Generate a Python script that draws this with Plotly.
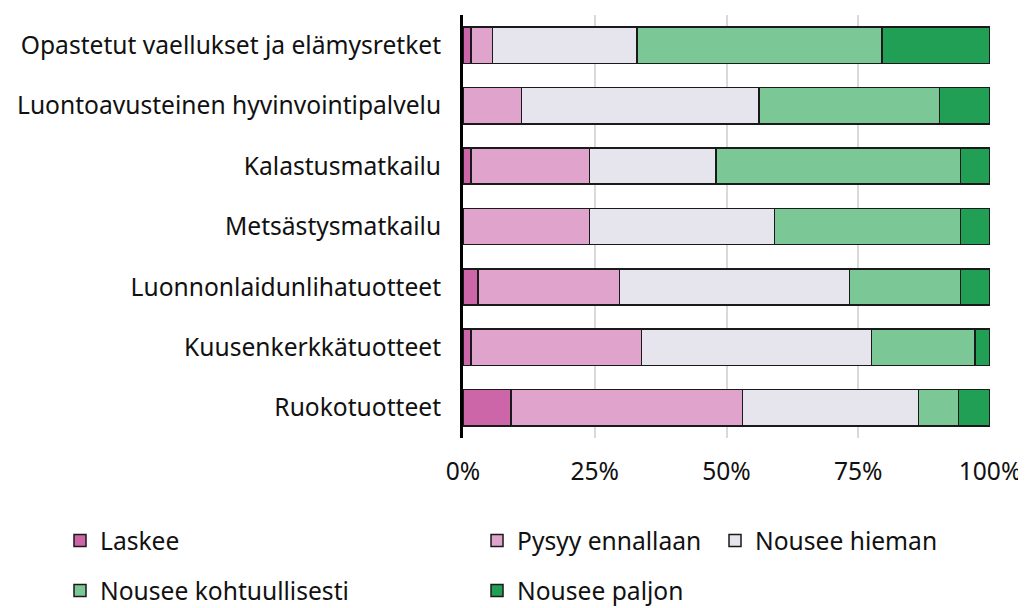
import plotly.graph_objects as go

categories = [
    "Opastetut vaellukset ja elämysretket",
    "Luontoavusteinen hyvinvointipalvelu",
    "Kalastusmatkailu",
    "Metsästysmatkailu",
    "Luonnonlaidunlihatuotteet",
    "Kuusenkerkkätuotteet",
    "Ruokotuotteet",
]
series_names = ["Laskee", "Pysyy ennallaan", "Nousee hieman", "Nousee kohtuullisesti", "Nousee paljon"]
laskee = [1.5, 0.0, 1.5, 0.0, 2.8, 1.5, 9.1]
pysyy = [4.1, 11.1, 22.5, 24.0, 26.9, 32.4, 43.9]
hieman = [27.4, 45.1, 24.0, 35.1, 43.6, 43.6, 33.4]
kohtuullisesti = [46.5, 34.2, 46.4, 35.3, 21.1, 19.7, 7.6]
paljon = [20.5, 9.6, 5.6, 5.6, 5.6, 2.8, 6.0]
series_values = [laskee, pysyy, hieman, kohtuullisesti, paljon]
colors = ["#cc66a8", "#e0a4cc", "#e6e4ec", "#7bc796", "#21a055"]
legend_ids = ["legend", "legend2", "legend3", "legend", "legend2"]
x_tickvals = [0, 25, 50, 75, 100]
x_ticktext = ["0%", "25%", "50%", "75%", "100%"]

FONT = "Noto Sans"
FS = 24.6
fig = go.Figure()
for i, (name, vals, col) in enumerate(zip(series_names, series_values, colors)):
    fig.add_trace(go.Bar(
        y=categories, x=vals, name=name, orientation="h",
        marker=dict(color=col, line=dict(color="#1a1a1a", width=1.5)),
        width=0.6, legend=legend_ids[i], legendgroup=name,
        hoverinfo="x+y+name",
    ))

leg_common = dict(
    orientation="v", bgcolor="rgba(0,0,0,0)", tracegroupgap=15,
    font=dict(family=FONT, size=FS, color="#111"),
    xanchor="left", yanchor="top", xref="paper", yref="paper",
    itemwidth=30,
)
LY = -0.1891
fig.update_layout(
    barmode="stack",
    width=1018, height=600,
    margin=dict(l=455, r=36, t=7, b=170, autoexpand=False),
    plot_bgcolor="white", paper_bgcolor="white",
    font=dict(family=FONT, size=FS, color="#111"),
    legend=dict(leg_common, x=-0.7647, y=LY),
    legend2=dict(leg_common, x=0.0266, y=LY),
    legend3=dict(leg_common, x=0.4782, y=LY),
    xaxis=dict(
        range=[0, 100], tickvals=x_tickvals, ticktext=x_ticktext,
        showgrid=True, gridcolor="#d9d9d9", gridwidth=1.5,
        zeroline=False, showline=False, ticks="", ticklabelstandoff=16,
        tickfont=dict(family=FONT, size=FS, color="#111"),
        fixedrange=True,
    ),
    yaxis=dict(
        categoryorder="array", categoryarray=categories, autorange="reversed",
        showline=True, linecolor="#000", linewidth=3, ticks="",
        ticklabelstandoff=14, showgrid=False,
        tickfont=dict(family=FONT, size=FS, color="#111"),
        fixedrange=True,
    ),
)
fig.write_html("out.html")
